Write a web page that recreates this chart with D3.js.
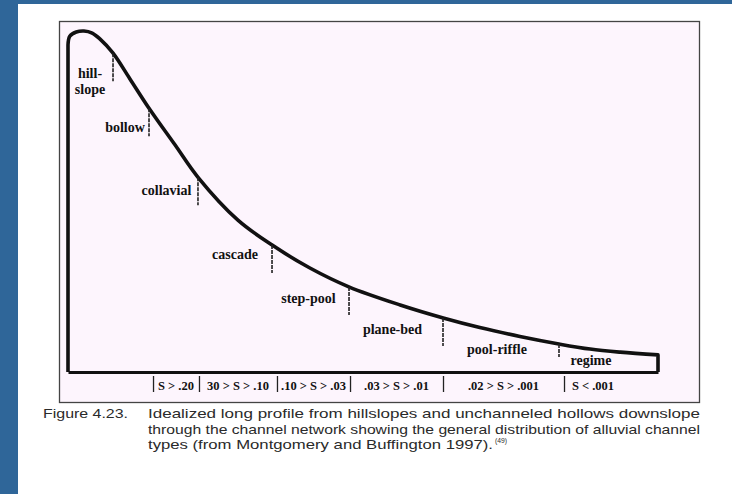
<!DOCTYPE html>
<html>
<head>
<meta charset="utf-8">
<script src="https://cdn.jsdelivr.net/npm/d3@7"></script>
<style>
body { margin: 0; background: #fff; }
svg { display: block; }
.reach { font-family: "Liberation Serif"; font-weight: bold; font-size: 14px; fill: #111; }
.slope { font-family: "Liberation Serif"; font-weight: bold; font-size: 12.5px; fill: #111; }
.caption { font-family: "Liberation Sans"; font-size: 13px; fill: #2a2a2a; }
</style>
</head>
<body>
<svg id="chart" width="732" height="494"></svg>
<script>
// long profile, distance downstream vs elevation (both 0-100)
const distance  = [0, 0, 0.3, 1.4, 2.7, 4.1, 5.4, 7.6, 10.5, 13.7, 18.1, 22, 28.8, 34.6, 41, 47.6, 56.3, 63.6, 69.8, 76.6, 83.2, 88.5, 93.6, 100, 100]
const elevation = [0, 95.6, 98.2, 99.4, 99.7, 99.1, 97.4, 93.3, 85.7, 77.2, 66.5, 57, 44.4, 37.1, 30.4, 24.9, 19.6, 15.8, 13.0, 10.4, 8.2, 6.7, 5.8, 5, 0]

const reachNames  = ["hill-|slope", "bollow", "collavial", "cascade", "step-pool", "plane-bed", "pool-riffle", "regime"]
const reachBounds = [7.63, 13.73, 22.03, 34.58, 47.63, 63.56, 83.22]
const reachLabelX = [3.73, 9.66, 16.69, 28.31, 40.76, 55.0, 72.71, 88.64]
const reachLabelY = [85.96, 70.18, 51.75, 33.04, 20.18, 11.11, 5.26, 2.05]

const slopeLabels = ["S > .20", "30 > S > .10", ".10 > S > .03", ".03 > S > .01", ".02 > S > .001", "S < .001"]
const slopeBounds = [14.41, 22.2, 35.42, 47.8, 63.56, 84.07, 93.9]

const figureLabel = "Figure 4.23."
const captionLines = [
    "Idealized long profile from hillslopes and unchanneled hollows downslope",
    "through the channel network showing the general distribution of alluvial channel",
    "types  (from Montgomery and Buffington 1997)."
]
const captionNote = "(49)"

const svg = d3.select("#chart")

// page background
svg.append("rect").attr("width", 732).attr("height", 494).attr("fill", "#2f6699")
svg.append("rect").attr("x", 18).attr("y", 4).attr("width", 714).attr("height", 490).attr("fill", "#fff")

svg.append("rect")
    .attr("x", 59.5).attr("y", 21.5)
    .attr("width", 640).attr("height", 381)
    .attr("fill", "#fdf5fd")
    .attr("stroke", "#444")
    .attr("stroke-width", 1.3)

const x = d3.scaleLinear([0, 100], [68, 658])
const y = d3.scaleLinear([0, 100], [372, 30])

function elevAt(d) {
    for (let i = 2; i < distance.length - 1; i++) {
        if (distance[i] >= d) {
            const t = (d - distance[i-1]) / (distance[i] - distance[i-1])
            return elevation[i-1] + t * (elevation[i] - elevation[i-1])
        }
    }
    return elevation[elevation.length - 2]
}

// profile
const pts = distance.map((d, i) => [d, elevation[i]])
const line = d3.line()
    .x(d => x(d[0]))
    .y(d => y(d[1]))
    .curve(d3.curveCatmullRom.alpha(0.5))

const mid = line(pts.slice(1, -1))
const last = pts[pts.length - 1]
svg.append("path")
    .attr("d", "M" + x(pts[0][0]) + "," + y(pts[0][1]) + "L" + mid.slice(1) + "L" + x(last[0]) + "," + y(last[1]))
    .attr("fill", "none")
    .attr("stroke", "#111")
    .attr("stroke-width", 3.6)
    .attr("stroke-linejoin", "round")

// reach boundaries
svg.append("g")
    .selectAll("line")
    .data(reachBounds)
    .join("line")
    .attr("x1", d => x(d)).attr("x2", d => x(d))
    .attr("y1", d => y(elevAt(d)))
    .attr("y2", d => Math.min(y(elevAt(d)) + 28, y(0) - 15))
    .attr("stroke", "#222")
    .attr("stroke-width", 1.6)
    .attr("stroke-dasharray", "4,1")

// reach names
svg.append("g")
    .selectAll("text")
    .data(reachNames)
    .join("text")
    .attr("class", "reach")
    .attr("text-anchor", "middle")
    .attr("x", (d, i) => x(reachLabelX[i]))
    .attr("y", (d, i) => y(reachLabelY[i]))
    .each(function(d) {
        const parts = d.split("|")
        const t = d3.select(this)
        parts.forEach((p, j) => {
            t.append("tspan")
                .attr("x", t.attr("x"))
                .attr("dy", j ? 16 : 0)
                .text(p)
        })
    })

// bottom axis with slope classes
const xAxis = d3.axisBottom(x)
    .tickValues(slopeBounds.slice(0, -1))
    .tickSize(20)
    .tickSizeOuter(0)
    .tickFormat("")

const gx = svg.append("g")
    .attr("transform", "translate(0," + y(0) + ")")
    .call(xAxis)

gx.select(".domain").attr("stroke", "#111").attr("stroke-width", 3)
gx.selectAll(".tick line").attr("y1", 4).attr("stroke", "#222").attr("stroke-width", 1.3)

gx.selectAll(".slope")
    .data(slopeLabels)
    .join("text")
    .attr("class", "slope")
    .attr("text-anchor", "middle")
    .attr("x", (d, i) => x((slopeBounds[i] + slopeBounds[i+1]) / 2))
    .attr("y", 18)
    .text(d => d)

// caption
const cap = svg.append("g")
cap.append("text")
    .attr("class", "caption")
    .attr("x", 43).attr("y", 418)
    .attr("textLength", 85).attr("lengthAdjust", "spacingAndGlyphs")
    .text(figureLabel)

const capWidths = [552, 552, 345]
cap.selectAll(".line")
    .data(captionLines)
    .join("text")
    .attr("class", "caption line")
    .attr("x", 148)
    .attr("y", (d, i) => 418 + i * 15.5)
    .attr("textLength", (d, i) => capWidths[i])
    .attr("lengthAdjust", "spacingAndGlyphs")
    .text(d => d)

cap.append("text")
    .attr("class", "caption")
    .attr("x", 495).attr("y", 443)
    .style("font-size", "8px")
    .attr("textLength", 12).attr("lengthAdjust", "spacingAndGlyphs")
    .text(captionNote)
</script>
</body>
</html>
